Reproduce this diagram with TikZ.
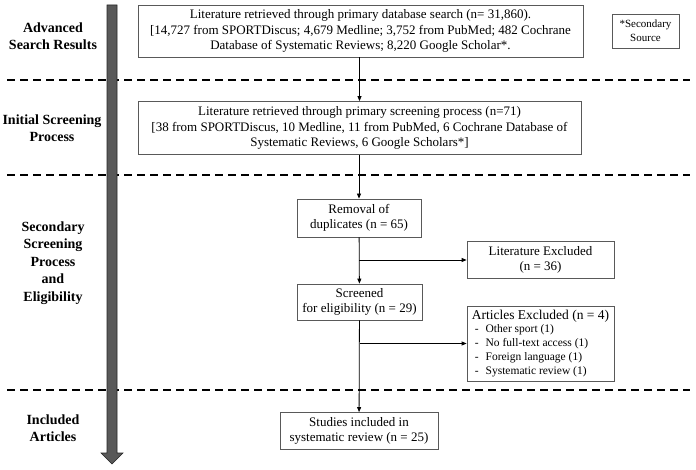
\documentclass[tikz,border=0pt]{standalone}
\usepackage{fontspec}
\setmainfont{Liberation Serif}
\usetikzlibrary{arrows.meta,calc}
\newcommand{\exitem}[1]{{\fontsize{11.5}{14}\selectfont\hspace*{3pt}-\hspace{7pt}#1}}

\begin{document}
\begin{tikzpicture}[
  x=1pt, y=-1pt,
  box/.style={draw=black!65, line width=0.8pt, align=center, inner sep=2pt, font=\fontsize{13}{15.5}\selectfont},
  stage/.style={align=center, font=\fontsize{14}{17.5}\selectfont\bfseries},
  arr/.style={-{Triangle[length=5pt,width=4pt]}, line width=0.8pt},
  sep/.style={dashed, dash pattern=on 8pt off 5pt, line width=1.6pt}
]
\useasboundingbox (0,0) rectangle (696,470);

\draw[sep] (7,80) -- (690,80);
\draw[sep] (7,175) -- (690,175);
\draw[sep] (7,390) -- (690,390);

\draw[fill=black!65, draw=black!85, line width=0.6pt]
  (107,5) -- (117,5) -- (117,453) -- (123,453) -- (112,464) -- (101,453) -- (107,453) -- cycle;

\node[stage] (advanced) at (53,36) {Advanced\\Search Results};
\node[stage] (initial) at (52,128) {Initial Screening\\Process};
\node[stage] (secondary) at (53,263) {Secondary\\Screening\\Process\\and\\Eligibility};
\node[stage] (included) at (53,428) {Included\\Articles};

\node[box, minimum width=445pt, minimum height=52pt] (search) at (360.5,31)
  {Literature retrieved through primary database search (n= 31,860).\\
   {[}14,727 from SPORTDiscus; 4,679 Medline; 3,752 from PubMed; 482 Cochrane\\
   Database of Systematic Reviews; 8,220 Google Scholar*.};
\node[box, minimum width=67pt, minimum height=34pt, font=\fontsize{11}{14}\selectfont] (source) at (645.5,31)
  {*Secondary\\Source};
\node[box, minimum width=443pt, minimum height=53pt] (screen) at (359.5,128)
  {Literature retrieved through primary screening process (n=71)\\
   {[}38 from SPORTDiscus, 10 Medline, 11 from PubMed, 6 Cochrane Database of\\
   Systematic Reviews, 6 Google Scholars*]};
\node[box, minimum width=124pt, minimum height=38pt] (dupl) at (359,218)
  {Removal of\\duplicates (n = 65)};
\node[box, minimum width=125pt, minimum height=36pt] (elig) at (359.5,302)
  {Screened\\for eligibility (n = 29)};
\node[box, minimum width=147pt, minimum height=37pt] (litex) at (540.5,260)
  {Literature Excluded\\(n = 36)};
\node[box, minimum width=147pt, minimum height=75pt, align=left, font=\fontsize{13.5}{15}\selectfont] (artex) at (540.5,343.5)
  {Articles Excluded (n = 4)\\[-2pt]
   \exitem{Other sport (1)}\\[-1pt]
   \exitem{No full-text access (1)}\\[-1pt]
   \exitem{Foreign language (1)}\\[-1pt]
   \exitem{Systematic review (1)}};
\node[box, minimum width=158pt, minimum height=37pt] (final) at (359,431)
  {Studies included in\\systematic review (n = 25)};

\draw[arr] (screen.north |- search.south) -- (screen.north);
\draw[arr] (dupl.north |- screen.south) -- (dupl.north);
\draw[arr] (dupl) -- (elig);
\draw[arr] (dupl.south |- litex.west) -- (litex.west);
\draw[arr] (elig) -- (final);
\draw[arr] (elig.south |- artex.west) -- (artex.west);
\end{tikzpicture}
\end{document}
